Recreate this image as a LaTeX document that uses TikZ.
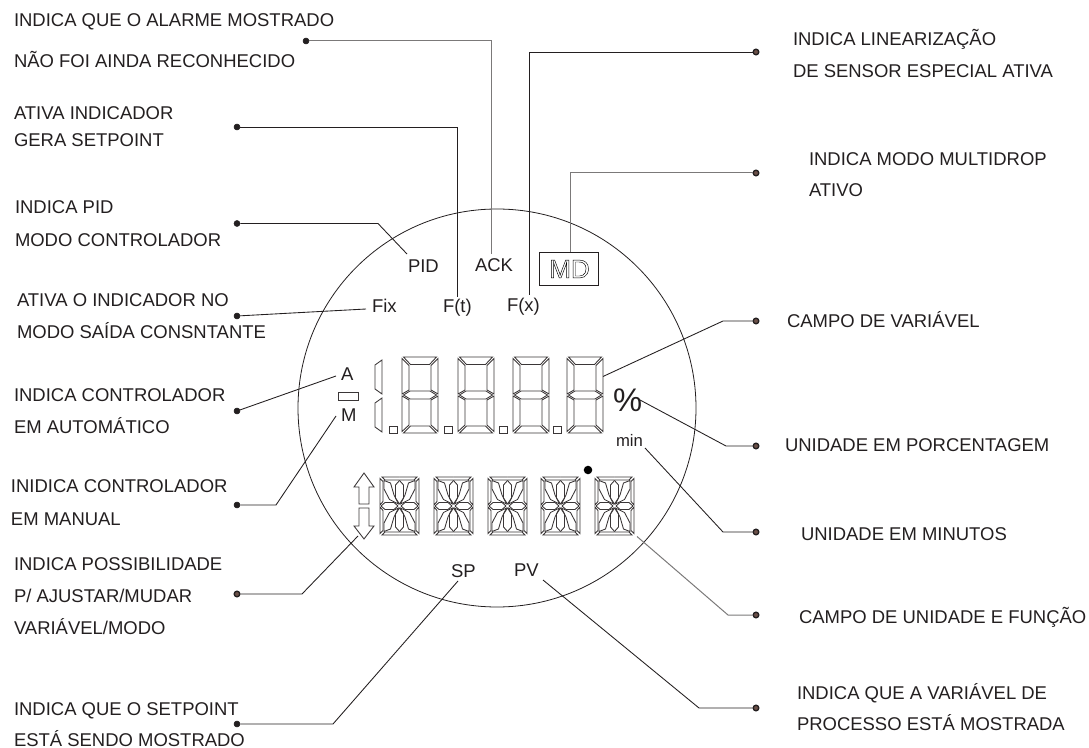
\documentclass[tikz,border=0pt]{standalone}
\usepackage{fontspec}
\setmainfont{Liberation Sans}
\definecolor{ink}{HTML}{231F20}
\definecolor{segc}{HTML}{3A3637}
\definecolor{ringc}{HTML}{6B5048}
\newcommand{\lblfont}{\fontsize{13.85pt}{16pt}\selectfont}
\newcommand{\sevenseg}[2]{%
 \begin{scope}[shift={(#1,#2)},segline]
  \draw (1.5,0)--(34.5,0)--(27.5,7.5)--(8.5,7.5)--cycle;
  \draw (0,1.5)--(7,8.5)--(7,33)--(0,37)--cycle;
  \draw (36,1.5)--(29,8.5)--(29,33)--(36,37)--cycle;
  \draw (1.5,38)--(8,34)--(28,34)--(34.5,38)--(28,42)--(8,42)--cycle;
  \draw (0,39)--(7,43)--(7,68)--(0,74.5)--cycle;
  \draw (36,39)--(29,43)--(29,68)--(36,74.5)--cycle;
  \draw (1.5,76)--(8.5,69)--(27.5,69)--(34.5,76)--cycle;
 \end{scope}}
\newcommand{\quadseg}{%
  \draw (0,-29)--(-17.5,-29)--(-14.5,-26)--(0,-26);
  \draw (-19.5,-27.5)--(-16.5,-24.5)--(-16.5,-4.5)--(-19.5,-1)--cycle;
  \draw (-18.5,0)--(-14.5,-3.5)--(-5.5,-3.5)--(-1.5,0);
  \draw (-15.5,-25.5)--(-9,-23)--(-5.5,-11)--(-1,-2)--(-10,-6.5)--(-15.5,-17)--cycle;
  \draw (0,-25.5)--(-4,-21)--(-4,-8)--(0,-2);
}
\newcommand{\alnum}[1]{%
 \begin{scope}[shift={(#1+19.5,506)},segline]
  \begin{scope}\quadseg\end{scope}
  \begin{scope}[xscale=-1]\quadseg\end{scope}
  \begin{scope}[yscale=-1]\quadseg\end{scope}
  \begin{scope}[xscale=-1,yscale=-1]\quadseg\end{scope}
 \end{scope}}
\tikzset{
 segline/.style={draw=segc,line width=0.65pt,line join=miter},
 lbl/.style={anchor=base west,inner sep=0pt,outer sep=0pt,text=ink,font=\lblfont},
 ldot/.style={circle,fill=ink,draw=ink,inner sep=0pt,minimum size=4.5pt},
 rdot/.style={circle,fill=ringc,draw=ink,line width=1pt,inner sep=0pt,minimum size=4.2pt},
 conn/.style={draw=ink,line width=0.65pt},
 conng/.style={draw=ink!60,line width=0.75pt},
}
\begin{document}
\begin{tikzpicture}[x=0.75pt,y=-0.75pt]
\useasboundingbox (0,0) rectangle (1089,748);
% dial
\node[circle,draw=ink,line width=0.6pt,inner sep=0pt,minimum size=298.5pt] (dial) at (497,408) {};
% left labels
\node[lbl] (t1a) at (14,27) {INDICA QUE O ALARME MOSTRADO};
\node[lbl] (t1b) at (14,68) {NÃO FOI AINDA RECONHECIDO};
\node[lbl] (t2a) at (14,120) {ATIVA INDICADOR};
\node[lbl] (t2b) at (14,147) {GERA SETPOINT};
\node[lbl] (t3a) at (15,214) {INDICA PID};
\node[lbl] (t3b) at (15,247) {MODO CONTROLADOR};
\node[lbl] (t4a) at (17,307) {ATIVA O INDICADOR NO};
\node[lbl] (t4b) at (17,339) {MODO SAÍDA CONSNTANTE};
\node[lbl] (t5a) at (14,402) {INDICA CONTROLADOR};
\node[lbl] (t5b) at (14,434) {EM AUTOMÁTICO};
\node[lbl] (t6a) at (11,493) {INIDICA CONTROLADOR};
\node[lbl] (t6b) at (11,525) {EM MANUAL};
\node[lbl] (t7a) at (14,570) {INDICA POSSIBILIDADE};
\node[lbl] (t7b) at (14,602) {P/ AJUSTAR/MUDAR};
\node[lbl] (t7c) at (14,634) {VARIÁVEL/MODO};
\node[lbl] (t8a) at (14,715) {INDICA QUE O SETPOINT};
\node[lbl] (t8b) at (14,746) {ESTÁ SENDO MOSTRADO};
% right labels
\node[lbl] (r1a) at (793,46) {INDICA LINEARIZAÇÃO};
\node[lbl] (r1b) at (793,78) {DE SENSOR ESPECIAL ATIVA};
\node[lbl] (r2a) at (809,166) {INDICA MODO MULTIDROP};
\node[lbl] (r2b) at (809,197) {ATIVO};
\node[lbl] (r3) at (787,328) {CAMPO DE VARIÁVEL};
\node[lbl] (r4) at (785,451) {UNIDADE EM PORCENTAGEM};
\node[lbl] (r5) at (801,540) {UNIDADE EM MINUTOS};
\node[lbl] (r6) at (799,623) {CAMPO DE UNIDADE E FUNÇÃO};
\node[lbl] (r7a) at (797,699) {INDICA QUE A VARIÁVEL DE};
\node[lbl] (r7b) at (797,730) {PROCESSO ESTÁ MOSTRADA};
% inner labels
\node[lbl] (pid) at (408,273) {PID};
\node[lbl] (ack) at (475,272) {ACK};
\node[lbl] (ft) at (443,313) {F(t)};
\node[lbl] (fx) at (507,312) {F(x)};
\node[lbl] (fix) at (372,313) {Fix};
\node[lbl] (la) at (341,381) {A};
\node[lbl] (lm) at (341,422) {M};
\node[lbl] (sp) at (451,577) {SP};
\node[lbl] (pv) at (514,576) {PV};
\node[lbl,font=\fontsize{24.5pt}{28pt}\selectfont] (pct) at (613,412) {\%};
\node[lbl,font=\fontsize{12.5pt}{14pt}\selectfont] (mn) at (616,447) {min};
% MD box
\node[draw=ink,line width=0.6pt,inner sep=0pt,minimum width=43.9pt,minimum height=24.8pt] (mdbox) at (569,268.5) {};
\node[inner sep=0pt,font=\fontsize{19.5pt}{21pt}\selectfont] (md) at (569.5,269) {\special{pdf:code q 1 Tr 0.35 w}MD\special{pdf:code Q}};
% A/M bar
\node[draw=segc,line width=0.55pt,inner sep=0pt,minimum width=15.5pt,minimum height=6pt] (bar) at (348.5,396) {};
% half digit
\draw[segline] (382,360)--(375,365)--(375,389)--(382,394)--cycle;
\draw[segline] (382,398)--(375,403)--(375,427)--(382,432)--cycle;
% digits
\sevenseg{402}{357}\sevenseg{458}{357}\sevenseg{513}{357}\sevenseg{567}{357}
% decimal points
\foreach \x in {389,444,499,553}{\draw[segline] (\x,426) rectangle (\x+8,433);}
% alphanumeric
\alnum{380}\alnum{434}\alnum{488}\alnum{541}\alnum{595}
% arrows
\draw[segline] (364,473)--(374,487)--(369,487)--(369,504)--(359,504)--(359,487)--(354,487)--cycle;
\draw[segline] (364,539)--(374,526)--(369,526)--(369,508)--(359,508)--(359,526)--(354,526)--cycle;
\node[circle,fill=black,inner sep=0pt,minimum size=6.4pt] (pt) at (588,470) {};
% dots
\node[ldot] (d1) at (306,41) {};
\node[ldot] (d2) at (237,127) {};
\node[ldot] (d3) at (237,223.5) {};
\node[ldot] (d4) at (237,316) {};
\node[ldot] (d5) at (237,411) {};
\node[ldot] (d6) at (237,505) {};
\node[rdot] (d7) at (237,594) {};
\node[ldot] (d8) at (237,724) {};
\node[rdot] (e1) at (756,52) {};
\node[rdot] (e2) at (756,173) {};
\node[rdot] (e3) at (756,321) {};
\node[rdot] (e4) at (756,446) {};
\node[rdot] (e5) at (756,532) {};
\node[rdot] (e6) at (756,615) {};
\node[rdot] (e7) at (756,708) {};
% free ends
\coordinate (f1) at (491,254);
\coordinate (f2) at (457,297);
\coordinate (b3) at (378,223.5);
\coordinate (f3) at (407,254);
\coordinate (f4) at (366,309);
\coordinate (f5) at (336,376);
\coordinate (b6) at (276,505);
\coordinate (f6) at (336,416);
\coordinate (b7) at (302,594);
\coordinate (f7) at (358,536);
\coordinate (b8) at (333,724);
\coordinate (f8) at (458,581);
\coordinate (g1) at (529,295);
\coordinate (g2) at (570,252);
\coordinate (c3) at (723,321);
\coordinate (g3) at (603,376.5);
\coordinate (c4) at (726,446);
\coordinate (g4) at (640,400);
\coordinate (c5) at (723,532);
\coordinate (g5) at (645,448);
\coordinate (c6) at (728,615);
\coordinate (g6) at (637,536.5);
\coordinate (c7) at (699,708);
\coordinate (g7) at (543,580);
% connectors
\draw[conng] (d1) -| (f1);
\draw[conn] (d2) -| (f2);
\draw[conn] (d3) -- (b3) -- (f3);
\draw[conn] (d4) -- (f4);
\draw[conn] (d5) -- (f5);
\draw[conn] (d6) -- (b6) -- (f6);
\draw[conn] (d7) -- (b7) -- (f7);
\draw[conn] (d8) -- (b8) -- (f8);
\draw[conn] (e1) -| (g1);
\draw[conng] (e2) -| (g2);
\draw[conn] (e3) -- (c3) -- (g3);
\draw[conn] (e4) -- (c4) -- (g4);
\draw[conn] (e5) -- (c5) -- (g5);
\draw[conng] (e6) -- (c6) -- (g6);
\draw[conn] (e7) -- (c7) -- (g7);
\end{tikzpicture}
\end{document}
